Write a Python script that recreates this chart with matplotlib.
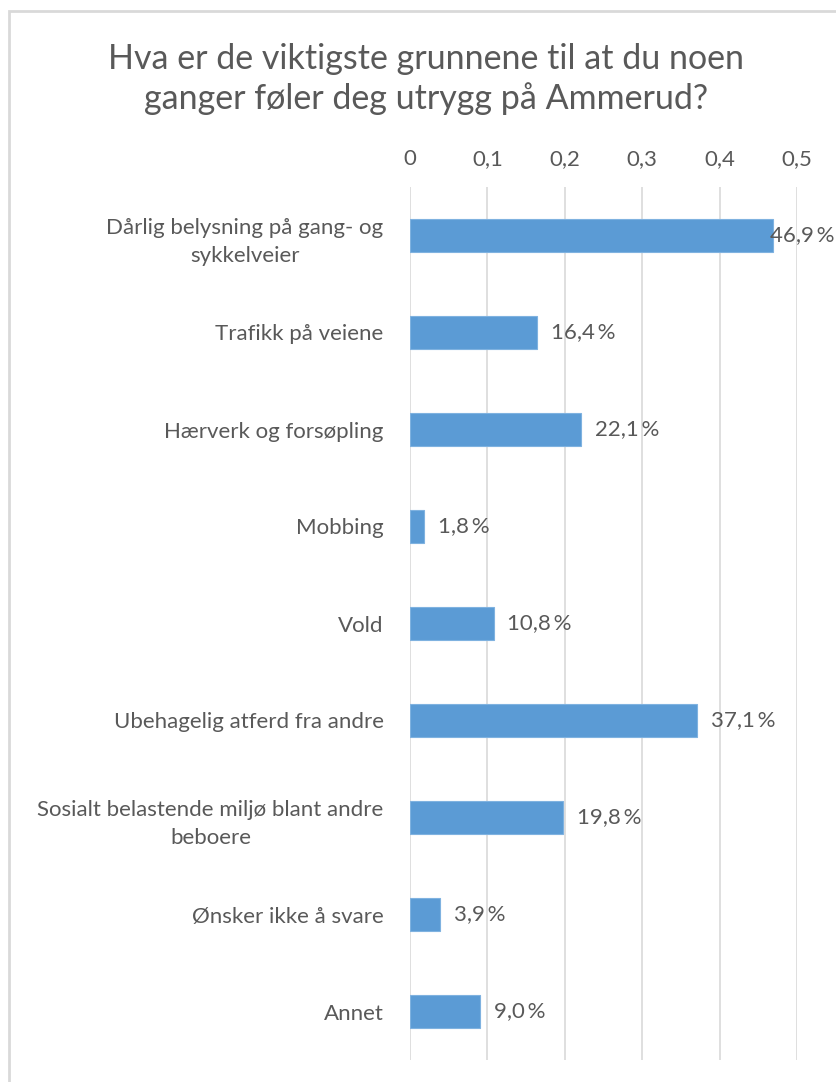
import matplotlib.pyplot as plt
from matplotlib.patches import Rectangle

categories = [
    "Dårlig belysning på gang- og\nsykkelveier",
    "Trafikk på veiene",
    "Hærverk og forsøpling",
    "Mobbing",
    "Vold",
    "Ubehagelig atferd fra andre",
    "Sosialt belastende miljø blant andre\nbeboere",
    "Ønsker ikke å svare",
    "Annet",
]
values = [0.469, 0.164, 0.221, 0.018, 0.108, 0.371, 0.198, 0.039, 0.090]
ticks = [0, 0.1, 0.2, 0.3, 0.4, 0.5]
tick_labels = ["0", "0,1", "0,2", "0,3", "0,4", "0,5"]

TEXT = "#595959"
BAR = "#5B9BD5"
GRID = "#D9D9D9"

plt.rcParams['font.family'] = ['Lato', 'DejaVu Sans']

fig = plt.figure(figsize=(8.36, 10.82), dpi=100)
ax = fig.add_axes([410 / 836, 1 - 1060 / 1082, (797 - 410) / 836, (1060 - 187) / 1082])

y = list(range(len(categories)))
ax.barh(y, values, height=0.35, color=BAR, edgecolor="#7FB2E0", linewidth=0.8, zorder=3)
ax.set_ylim(len(categories) - 0.5, -0.5)
ax.set_xlim(0, 0.5)

ax.set_xticks(ticks)
ax.set_xticklabels(tick_labels)
ax.xaxis.tick_top()
ax.tick_params(axis='x', length=0, pad=13, labelsize=16, labelcolor=TEXT)
ax.set_yticks(y)
ax.set_yticklabels(categories)
ax.tick_params(axis='y', length=0, pad=19, labelsize=16, labelcolor=TEXT)
for lbl in ax.get_yticklabels():
    lbl.set_multialignment('center')
    lbl.set_linespacing(1.55)

ax.grid(axis='x', color=GRID, linewidth=1.2, zorder=0)
for s in ax.spines.values():
    s.set_visible(False)

for yi, v in zip(y, values):
    txt = f"{v * 100:.1f}\u2009%".replace(".", ",")
    off = -2 if v > 0.44 else 10
    ax.annotate(txt, (v, yi), xytext=(off, 0), textcoords='offset points',
                ha='left', va='center', fontsize=16, color=TEXT, annotation_clip=False)

fig.text(0.51, 1 - 79 / 1082, "Hva er de viktigste grunnene til at du noen\nganger føler deg utrygg på Ammerud?",
         ha='center', va='center', fontsize=24.5, color=TEXT, linespacing=1.3)

fig.patches.append(Rectangle((9 / 836, -0.1), 2, 1 - 11 / 1082 + 0.1, transform=fig.transFigure,
                             fill=False, edgecolor=GRID, linewidth=2))

fig.savefig("out.png", dpi=100)
